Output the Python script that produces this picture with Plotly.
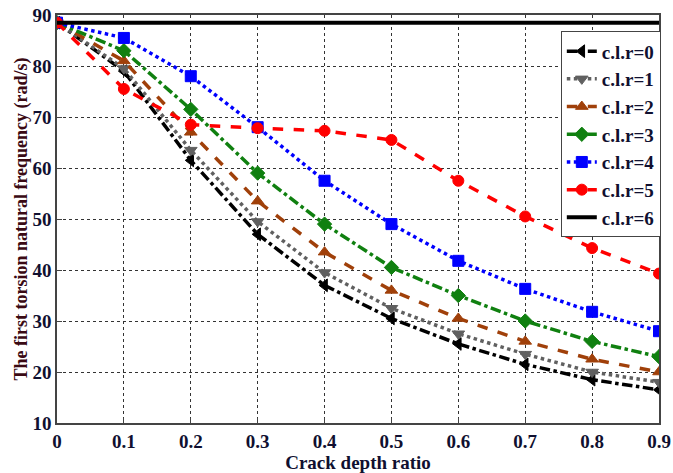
import plotly.graph_objects as go

x = [0, 0.1, 0.2, 0.3, 0.4, 0.5, 0.6, 0.7, 0.8, 0.9]
clr0 = [88.5, 79.0, 61.5, 47.0, 37.0, 30.5, 25.5, 21.5, 18.5, 16.5]
clr1 = [88.5, 79.5, 63.5, 49.5, 39.5, 32.5, 27.5, 23.5, 20.0, 18.0]
clr2 = [88.5, 81.0, 67.0, 53.5, 43.5, 36.0, 30.5, 26.0, 22.5, 20.0]
clr3 = [88.5, 83.0, 71.5, 59.0, 49.0, 40.5, 35.0, 30.0, 26.0, 23.0]
clr4 = [88.5, 85.5, 78.0, 68.0, 57.5, 49.0, 41.8, 36.3, 31.8, 28.0]
clr5 = [88.5, 75.5, 68.5, 67.8, 67.3, 65.5, 57.5, 50.5, 44.3, 39.3]
clr6 = [88.5, 88.5, 88.5, 88.5, 88.5, 88.5, 88.5, 88.5, 88.5, 88.5]
names = ["c.l.r=0", "c.l.r=1", "c.l.r=2", "c.l.r=3", "c.l.r=4", "c.l.r=5", "c.l.r=6"]
xticks = [0, 0.1, 0.2, 0.3, 0.4, 0.5, 0.6, 0.7, 0.8, 0.9]
xticklabels = ["0", "0.1", "0.2", "0.3", "0.4", "0.5", "0.6", "0.7", "0.8", "0.9"]
yticks = [10, 20, 30, 40, 50, 60, 70, 80, 90]

styles = [
    ("black", "dashdot", "triangle-left"),
    ("#606060", "dot", "triangle-down"),
    ("#a0400a", "dash", "triangle-up"),
    ("#108010", "dashdot", "diamond"),
    ("#0000ff", "dot", "square"),
    ("#ff0000", "dash", "circle"),
    ("black", "solid", None),
]
series = [clr0, clr1, clr2, clr3, clr4, clr5, clr6]

fig = go.Figure()
for ys, name, (c, d, m) in zip(series, names, styles):
    label = "<b>%s</b>" % name
    if m is None:
        fig.add_trace(go.Scatter(x=x, y=ys, name=label, mode="lines",
                                 line=dict(color=c, width=4, dash=d)))
    else:
        fig.add_trace(go.Scatter(x=x, y=ys, name=label, mode="lines+markers",
                                 line=dict(color=c, width=3.5, dash=d),
                                 marker=dict(symbol=m, size=11, color=c,
                                             line=dict(color=c, width=1))))

txt = "#101030"
fig.update_layout(
    width=673, height=473,
    margin=dict(l=57, r=12, t=15, b=50),
    paper_bgcolor="white", plot_bgcolor="white",
    font=dict(family="Liberation Serif", size=16, color="black"),
    legend=dict(x=1.003, xanchor="right", y=0.96, yanchor="top",
                bgcolor="white", bordercolor="#444", borderwidth=1,
                font=dict(family="Liberation Serif", size=19, color=txt),
                tracegroupgap=0, itemwidth=30),
)
fig.update_xaxes(
    range=[0, 0.9], tickvals=xticks, ticktext=["<b>%s</b>" % t for t in xticklabels],
    automargin=False,
    showgrid=True, gridcolor="#333", griddash="dot", gridwidth=1,
    showline=True, linecolor="#444", linewidth=1.5, mirror=True,
    ticks="inside", ticklen=5, tickcolor="#444", zeroline=False,
    tickfont=dict(family="Liberation Serif", size=19, color=txt),
    title=dict(text="<b>Crack depth ratio</b>", standoff=0,
               font=dict(family="Liberation Serif", size=19, color=txt)),
)
fig.update_yaxes(
    range=[10, 90], tickvals=yticks, ticktext=["<b>%d</b>" % t for t in yticks],
    automargin=False,
    showgrid=True, gridcolor="#333", griddash="dot", gridwidth=1,
    showline=True, linecolor="#444", linewidth=1.5, mirror=True,
    ticks="inside", ticklen=5, tickcolor="#444", zeroline=False,
    tickfont=dict(family="Liberation Serif", size=19, color=txt),
    title=dict(text="<b>The first torsion natural frequency (rad/s)</b>", standoff=0,
               font=dict(family="Liberation Serif", size=18, color="#3a0a14")),
)
fig.write_html("out.html")
